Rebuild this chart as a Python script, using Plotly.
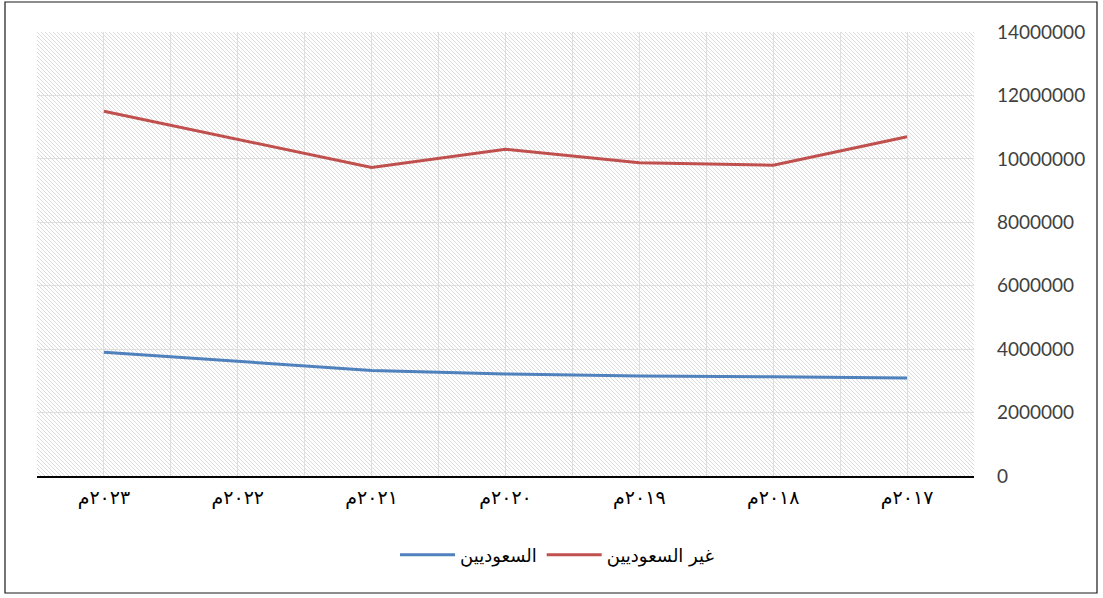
import base64
import plotly.graph_objects as go

# ---- data ----
years = ["٢٠٢٣م", "٢٠٢٢م", "٢٠٢١م", "٢٠٢٠م", "٢٠١٩م", "٢٠١٨م", "٢٠١٧م"]
saudi = [3900000, 3620000, 3330000, 3220000, 3150000, 3130000, 3090000]
non_saudi = [11500000, 10620000, 9730000, 10300000, 9880000, 9800000, 10700000]
y_ticks = [0, 2000000, 4000000, 6000000, 8000000, 10000000, 12000000, 14000000]
name_saudi = "السعوديين"
name_non_saudi = "غير السعوديين"

W, H = 1103, 598
ML, MR, MT, MB = 37, 129, 32, 122
PW, PH = W - ML - MR, H - MT - MB

# hatched background as an inline svg image
svg = f'''<svg xmlns="http://www.w3.org/2000/svg" width="{PW}" height="{PH}">
<defs><pattern id="h" patternUnits="userSpaceOnUse" width="4" height="4">
<path d="M-1,-1 L5,5 M-1,3 L1,5 M3,-1 L5,1" stroke="#d2d2d2" stroke-width="0.8"/>
</pattern></defs>
<rect width="100%" height="100%" fill="white"/>
<rect width="100%" height="100%" fill="url(#h)"/>
</svg>'''
src = "data:image/svg+xml;base64," + base64.b64encode(svg.encode()).decode()

xi = list(range(len(years)))

fig = go.Figure()
fig.add_trace(go.Scatter(x=xi, y=saudi, mode="lines", name=name_saudi,
                         line=dict(color="#4F81BD", width=3)))
fig.add_trace(go.Scatter(x=xi, y=non_saudi, mode="lines", name=name_non_saudi,
                         line=dict(color="#C0504D", width=3)))

fig.add_layout_image(dict(source=src, xref="x domain", yref="y domain", x=0, y=1,
                          sizex=1, sizey=1, xanchor="left", yanchor="top",
                          sizing="stretch", layer="below"))

# outer border
fig.add_shape(type="rect", xref="paper", yref="paper",
              x0=(5 - ML) / PW, x1=(1097 - ML) / PW,
              y0=(H - MB - 593) / PH, y1=(H - MB - 2) / PH,
              line=dict(color="#1a1a1a", width=1.2), layer="above")

fig.update_layout(
    width=W, height=H,
    margin=dict(l=ML, r=MR, t=MT, b=MB),
    paper_bgcolor="white", plot_bgcolor="white",
    showlegend=True,
    legend=dict(orientation="h", x=(557 - ML) / PW, xanchor="center",
                y=(H - MB - 555) / PH, yanchor="middle",
                font=dict(family="DejaVu Sans", size=18, color="#000000"),
                itemwidth=55, tracegroupgap=0),
    xaxis=dict(range=[-0.5, len(years) - 0.5], tickmode="array", tickvals=xi,
               ticktext=years, showgrid=True, gridcolor="#dedede", gridwidth=1,
               minor=dict(dtick=0.5, tick0=-0.5, showgrid=True, gridcolor="#dedede"),
               showline=True, linecolor="#000000", linewidth=1.6, ticks="",
               zeroline=False, ticklabelstandoff=3,
               tickfont=dict(family="DejaVu Sans", size=19, color="#000000")),
    yaxis=dict(range=[0, 14000000], side="right", tickmode="array", tickvals=y_ticks,
               ticktext=[str(v) for v in y_ticks], showgrid=True, gridcolor="#dedede",
               zeroline=False, showline=False, ticks="", ticklabelstandoff=22,
               tickfont=dict(family="Lato", size=19, color="#404040")),
)

fig.write_html("out.html", config={"displayModeBar": False},
               post_script="document.body.style.margin='0';")
